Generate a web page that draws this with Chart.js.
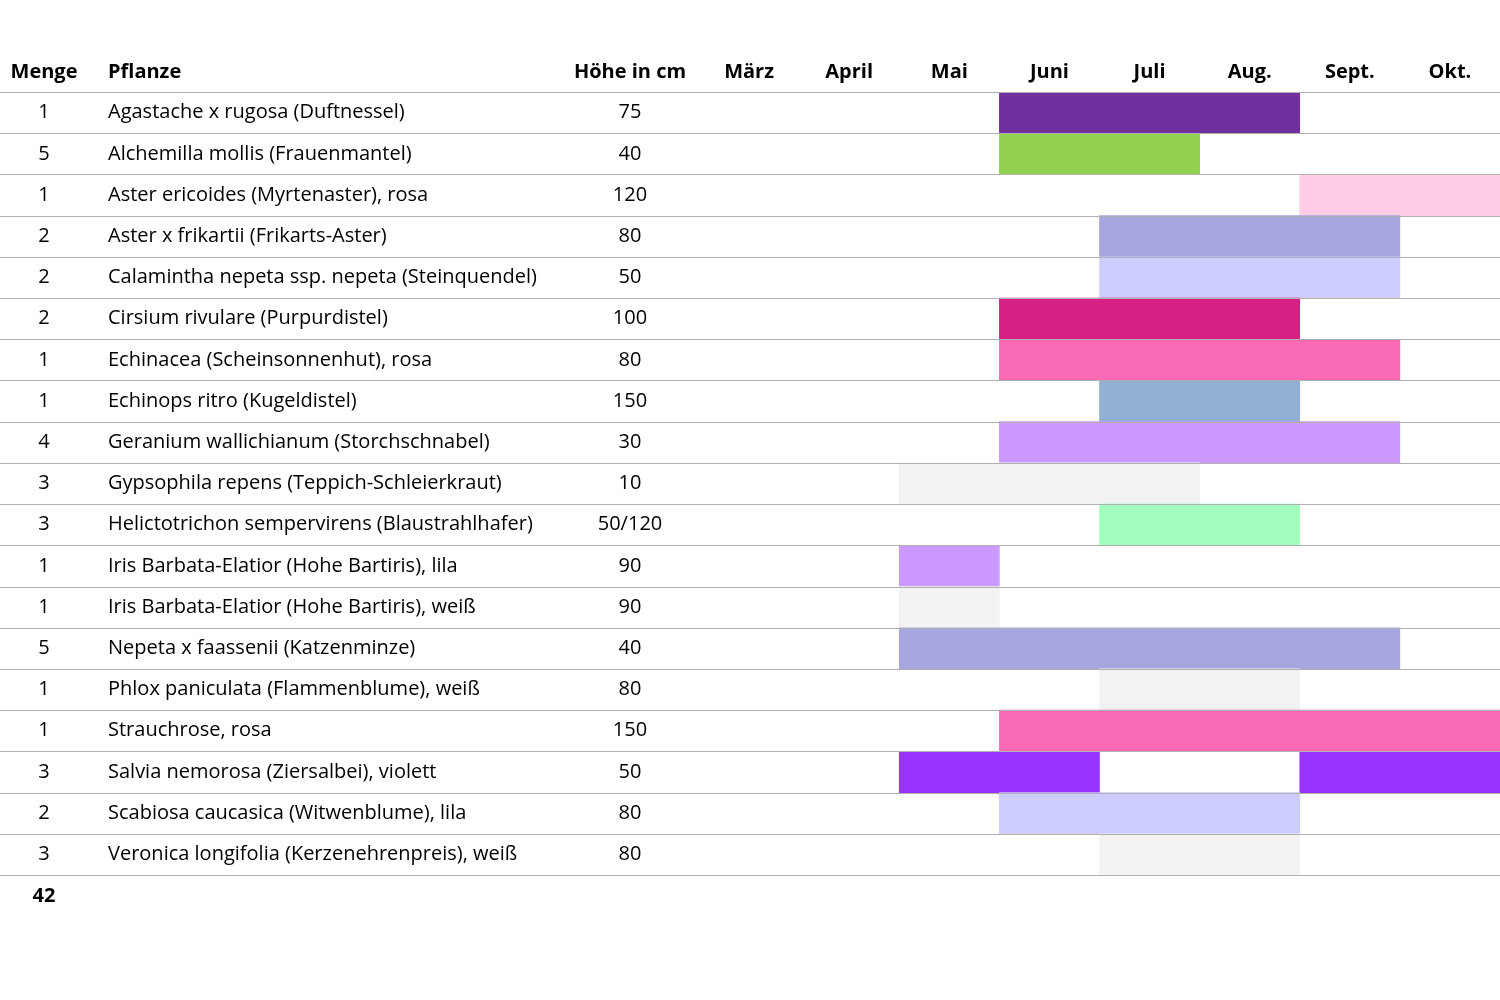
<!DOCTYPE html>
<html>
<head>
<meta charset="utf-8">
<script src="https://cdn.jsdelivr.net/npm/chart.js@4"></script>
<style>
  body { margin: 0; background: #fff; }
  #wrap { width: 1500px; height: 1000px; }
</style>
</head>
<body>
<div id="wrap"><canvas id="myChart"></canvas></div>
<script>
const months = ['März', 'April', 'Mai', 'Juni', 'Juli', 'Aug.', 'Sept.', 'Okt.'];
const plants = [
    'Agastache x rugosa (Duftnessel)',
    'Alchemilla mollis (Frauenmantel)',
    'Aster ericoides (Myrtenaster), rosa',
    'Aster x frikartii (Frikarts-Aster)',
    'Calamintha nepeta ssp. nepeta (Steinquendel)',
    'Cirsium rivulare (Purpurdistel)',
    'Echinacea (Scheinsonnenhut), rosa',
    'Echinops ritro (Kugeldistel)',
    'Geranium wallichianum (Storchschnabel)',
    'Gypsophila repens (Teppich-Schleierkraut)',
    'Helictotrichon sempervirens (Blaustrahlhafer)',
    'Iris Barbata-Elatior (Hohe Bartiris), lila',
    'Iris Barbata-Elatior (Hohe Bartiris), weiß',
    'Nepeta x faassenii (Katzenminze)',
    'Phlox paniculata (Flammenblume), weiß',
    'Strauchrose, rosa',
    'Salvia nemorosa (Ziersalbei), violett',
    'Scabiosa caucasica (Witwenblume), lila',
    'Veronica longifolia (Kerzenehrenpreis), weiß'
];
const menge = [1, 5, 1, 2, 2, 2, 1, 1, 4, 3, 3, 1, 1, 5, 1, 1, 3, 2, 3];
const hoehe = ['75', '40', '120', '80', '50', '100', '80', '150', '30', '10', '50/120', '90', '90', '40', '80', '150', '50', '80', '80'];
const total = '42';
// Blütezeit: Monatsindex Beginn / Ende (März = 0)
const bloom = [[3, 6], [3, 5], [6, 8], [4, 7], [4, 7], [3, 6], [3, 7], [4, 6], [3, 7], [2, 5],
    [4, 6], [2, 3], [2, 3], [2, 7], [4, 6], [3, 8], [2, 4], [3, 6], [4, 6]];
const bloom2 = plants.map((p, i) => i === 16 ? [6, 8] : null);
const colors = ['#7030a0', '#92d050', '#ffcce6', '#a6a6e0', '#ccccff', '#d62085', '#fa6ab4', '#92b0d4',
    '#cc99ff', '#f2f2f2', '#a3ffbf', '#cc99ff', '#f2f2f2', '#a6a6e0', '#f2f2f2', '#fa6ab4', '#9933ff',
    '#ccccff', '#f2f2f2'];

const FONT = '"Open Sans", sans-serif';

const tablePlugin = {
    id: 'table',
    afterDatasetsDraw(chart) {
        const c = chart.ctx;
        const y = chart.scales.y;
        const area = chart.chartArea;
        const rowH = (area.bottom - area.top) / plants.length;
        c.save();
        c.strokeStyle = '#b0b0b0';
        c.lineWidth = 1;
        for (let i = 0; i <= plants.length; i++) {
            const ly = Math.round(area.top + i * rowH) + 0.5;
            c.beginPath();
            c.moveTo(0, ly);
            c.lineTo(1500, ly);
            c.stroke();
        }
        c.fillStyle = '#000';
        c.textBaseline = 'middle';
        c.font = 'bold 20px ' + FONT;
        c.textAlign = 'center';
        const hy = area.top - 20;
        c.fillText('Menge', 44, hy);
        c.fillText('Höhe in cm', 630, hy);
        months.forEach((m, i) => c.fillText(m, chart.scales.x.getPixelForValue(i + 0.5), hy));
        c.textAlign = 'left';
        c.fillText('Pflanze', 108, hy);
        c.textAlign = 'center';
        c.fillText(total, 44, area.bottom + 21);
        c.font = '20px ' + FONT;
        plants.forEach((p, i) => {
            const py = y.getPixelForValue(i);
            c.textAlign = 'center';
            c.fillText(String(menge[i]), 44, py);
            c.fillText(hoehe[i], 630, py);
            c.textAlign = 'left';
            c.fillText(p, 108, py);
        });
        c.restore();
    }
};

new Chart(document.getElementById('myChart').getContext('2d'), {
    type: 'bar',
    data: {
        labels: plants,
        datasets: [
            { data: bloom, backgroundColor: colors, grouped: false, barPercentage: 1, categoryPercentage: 1 },
            { data: bloom2, backgroundColor: colors, grouped: false, barPercentage: 1, categoryPercentage: 1 }
        ]
    },
    options: {
        indexAxis: 'y',
        responsive: true,
        maintainAspectRatio: false,
        animation: false,
        layout: { padding: { left: 699, top: 92, right: 0, bottom: 125 } },
        plugins: { legend: { display: false }, tooltip: { enabled: false } },
        scales: {
            x: { min: 0, max: 8, display: false },
            y: { display: false }
        }
    },
    plugins: [tablePlugin]
});
</script>
</body>
</html>
